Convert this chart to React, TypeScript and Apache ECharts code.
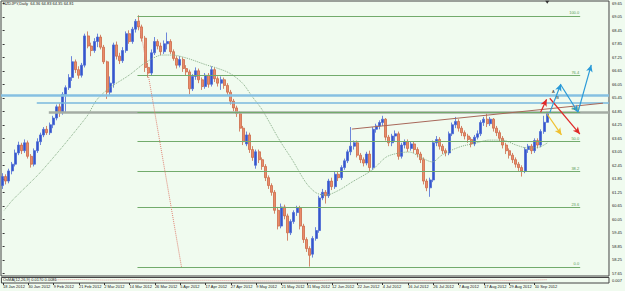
import React, { useEffect, useRef } from "react";
import * as echarts from "echarts";

const TITLE = "NZDJPY,Daily  64.36 64.83 64.35 64.81";
const INDICATOR_TITLE = "OsMA(12,26,9) 0.0170 0.0081";
const MONTHS = ["Jan", "Feb", "Mar", "Apr", "May", "Jun", "Jul", "Aug", "Sep", "Oct", "Nov", "Dec"];
const BAR_COUNT = 173;
const SLOT_COUNT = 192;
const LABEL_EVERY = 8;
const LAST_LABEL_INDEX = 168;

// [open, close, low, high]
const ohlc: number[][] = [
  [61.55, 61.95, 61.4, 62.1], [61.95, 61.75, 61.6, 62.05], [61.75, 62.2, 61.65, 62.3], [62.2, 62.5, 62.05, 62.6],
  [62.5, 63.0, 62.4, 63.15], [63.0, 63.35, 62.9, 63.5], [63.35, 63.1, 62.95, 63.45], [63.1, 63.45, 63.0, 63.6],
  [63.45, 62.85, 62.75, 63.55], [62.85, 62.5, 62.35, 62.95], [62.5, 63.1, 62.4, 63.2], [63.1, 63.5, 63.0, 63.65],
  [63.5, 63.8, 63.35, 63.9], [63.8, 64.05, 63.7, 64.15], [64.05, 63.9, 63.8, 64.2], [63.9, 64.25, 63.8, 64.35],
  [64.25, 64.55, 64.1, 64.65], [64.55, 65.05, 64.45, 65.15], [65.05, 64.8, 64.6, 65.2], [64.8, 65.6, 64.7, 65.7],
  [65.6, 65.9, 64.8, 66.0], [65.9, 66.35, 65.8, 66.5], [66.35, 67.05, 66.2, 67.3], [67.05, 66.7, 66.55, 67.15],
  [66.7, 66.45, 66.3, 66.85], [66.45, 66.9, 66.35, 67.0], [66.9, 68.2, 66.8, 68.3], [68.2, 67.75, 67.65, 68.4],
  [67.75, 67.55, 67.3, 67.9], [67.55, 67.95, 67.45, 68.1], [67.95, 68.15, 67.7, 68.3], [68.15, 67.7, 67.6, 68.25],
  [67.7, 67.05, 66.95, 67.8], [67.05, 65.7, 65.4, 67.1], [65.7, 66.1, 65.55, 66.4], [66.1, 67.8, 65.9, 67.9],
  [67.8, 67.3, 67.15, 67.95], [67.3, 67.1, 66.95, 67.45], [67.1, 67.55, 67.0, 67.7], [67.55, 68.3, 67.45, 68.4],
  [68.3, 67.95, 67.85, 68.45], [67.95, 68.5, 67.85, 68.6], [68.5, 68.85, 68.35, 68.95], [68.85, 68.6, 68.45, 69.12],
  [68.6, 68.1, 67.95, 68.7], [68.1, 66.8, 66.6, 68.2], [66.8, 66.55, 66.35, 67.0], [66.55, 67.45, 66.45, 67.6],
  [67.45, 67.95, 67.35, 68.15], [67.95, 67.75, 67.6, 68.05], [67.75, 67.5, 67.35, 67.9], [67.5, 67.85, 67.4, 68.0],
  [67.85, 67.95, 67.6, 68.35], [67.95, 67.5, 67.4, 68.05], [67.5, 67.2, 67.1, 67.6], [67.2, 66.9, 66.75, 67.3],
  [66.9, 67.15, 66.8, 67.3], [67.15, 66.75, 66.6, 67.25], [66.75, 66.6, 66.45, 66.9], [66.6, 65.85, 65.6, 66.7],
  [65.85, 66.4, 65.75, 66.5], [66.4, 66.65, 66.25, 66.8], [66.65, 66.25, 66.1, 66.75], [66.25, 65.95, 65.8, 66.35],
  [65.95, 66.45, 65.85, 66.55], [66.45, 66.05, 65.9, 66.55], [66.05, 66.7, 65.95, 66.85], [66.7, 66.3, 66.15, 66.8],
  [66.3, 66.1, 65.95, 66.4], [66.1, 66.25, 65.8, 66.4], [66.25, 66.0, 65.85, 66.35], [66.0, 65.7, 65.55, 66.1],
  [65.7, 65.3, 65.15, 65.8], [65.3, 65.0, 64.85, 65.4], [65.0, 64.75, 64.6, 65.1], [64.75, 64.1, 63.95, 64.85],
  [64.1, 63.5, 63.35, 64.2], [63.4, 63.8, 63.3, 63.95], [63.8, 63.15, 63.0, 63.9], [63.15, 62.8, 62.65, 63.3],
  [62.45, 63.05, 62.3, 63.15], [63.05, 62.7, 62.55, 63.15], [62.7, 62.4, 62.25, 62.8], [62.4, 61.9, 61.75, 62.5],
  [61.9, 61.55, 61.4, 62.0], [61.55, 61.25, 61.1, 61.65], [61.25, 60.45, 60.3, 61.35], [60.45, 59.75, 59.6, 60.6],
  [59.75, 60.6, 59.65, 60.75], [60.6, 60.2, 60.05, 60.7], [60.2, 59.45, 59.1, 60.3], [59.45, 59.95, 59.35, 60.05],
  [59.95, 60.35, 59.85, 60.45], [60.35, 60.55, 60.2, 60.65], [60.55, 59.75, 59.6, 60.65], [59.75, 59.15, 59.0, 59.85],
  [59.15, 58.75, 58.6, 59.25], [58.75, 58.45, 57.95, 58.85], [58.5, 59.2, 58.35, 59.3], [59.2, 59.55, 59.1, 59.7],
  [59.55, 61.0, 59.45, 61.1], [61.0, 61.25, 60.9, 61.4], [61.25, 61.1, 60.75, 61.35], [61.1, 61.75, 61.0, 61.85],
  [61.75, 61.5, 61.35, 61.9], [61.5, 62.05, 61.4, 62.15], [62.05, 61.9, 61.75, 62.2], [61.9, 62.35, 61.8, 62.45],
  [62.35, 62.65, 62.25, 62.75], [62.65, 63.05, 62.55, 63.15], [63.05, 63.3, 62.9, 64.15], [63.3, 63.45, 63.15, 63.55],
  [63.45, 62.9, 62.8, 63.55], [62.9, 62.7, 62.55, 63.0], [62.7, 62.55, 62.4, 62.8], [62.55, 62.95, 62.45, 63.05],
  [62.95, 62.35, 62.2, 63.1], [62.35, 64.05, 62.25, 64.15], [64.05, 64.2, 63.9, 64.3], [64.2, 64.35, 64.05, 64.45],
  [64.35, 64.5, 64.2, 64.65], [64.5, 63.7, 63.55, 64.55], [63.7, 63.45, 63.3, 63.8], [63.45, 63.75, 63.3, 63.85],
  [63.75, 63.85, 63.5, 64.0], [63.85, 62.85, 62.7, 63.95], [62.85, 63.35, 62.75, 63.45], [63.35, 63.5, 63.2, 63.6],
  [63.5, 63.2, 63.05, 63.6], [63.2, 63.4, 63.1, 63.5], [63.4, 63.15, 63.0, 63.5], [63.15, 62.95, 62.8, 63.25],
  [62.95, 62.7, 62.55, 63.05], [62.7, 61.75, 61.6, 62.8], [61.75, 61.45, 61.3, 61.85], [61.45, 61.8, 61.05, 61.9],
  [61.8, 63.45, 61.7, 63.55], [63.45, 63.6, 63.3, 63.75], [63.6, 63.3, 63.15, 63.7], [63.3, 63.1, 62.95, 63.4],
  [63.1, 63.0, 62.85, 63.2], [63.0, 63.85, 62.9, 63.95], [63.85, 64.25, 63.75, 64.35], [64.25, 64.4, 64.1, 64.6],
  [64.4, 64.1, 63.95, 64.5], [64.1, 63.9, 63.75, 64.2], [63.9, 63.75, 63.6, 64.0], [63.75, 63.6, 63.45, 63.85],
  [63.6, 63.4, 63.25, 63.7], [63.4, 63.7, 63.3, 63.8], [63.7, 63.85, 63.6, 64.0], [63.85, 64.35, 63.75, 64.45],
  [64.35, 64.5, 64.2, 64.6], [64.5, 64.3, 64.15, 64.75], [64.3, 64.5, 64.2, 64.6], [64.5, 64.1, 63.95, 64.55],
  [64.1, 63.9, 63.75, 64.2], [63.9, 63.65, 63.5, 64.0], [63.65, 63.35, 63.2, 63.75], [63.35, 63.1, 62.95, 63.45],
  [63.1, 62.9, 62.75, 63.2], [62.9, 62.7, 62.55, 63.0], [62.7, 62.5, 62.35, 62.8], [62.5, 62.35, 62.2, 62.6],
  [62.35, 62.2, 61.95, 62.45], [62.2, 63.15, 62.1, 63.25], [63.15, 63.3, 63.0, 63.4], [63.3, 63.1, 62.95, 63.4],
  [63.1, 63.55, 63.0, 63.65], [63.55, 63.35, 63.2, 63.65], [63.35, 63.95, 63.25, 64.05], [63.95, 64.36, 63.85, 64.65],
  [64.36, 64.81, 64.35, 64.83],
];

// slow moving average, read at [bar index, price]
const maPoints: number[][] = [
  [0.5, 60.45], [3.2, 60.91], [12.6, 62.24], [26.5, 64.6], [29.7, 65.35], [33.8, 65.89], [40, 66.46],
  [45.4, 67.04], [50.5, 67.35], [53.6, 67.35], [58, 67.22], [64.4, 66.91], [67.5, 66.78], [71.6, 66.55],
  [75.7, 66.11], [78.9, 65.49], [82, 64.91], [87.4, 63.58], [91.5, 62.69], [95.9, 61.66], [99.1, 61.22],
  [102.2, 61.13], [106.3, 61.35], [110.4, 61.71], [116.7, 62.24], [121.2, 62.82], [125.3, 63.0],
  [128.4, 63.04], [132.5, 62.77], [135.7, 62.6], [138.8, 62.91], [144.2, 63.26], [149.5, 63.44],
  [153.6, 63.57], [157.7, 63.57], [162.2, 63.35], [165.7, 63.22], [169.5, 63.26], [172, 63.44],
];

// OsMA indicator, read at [bar index, value]
const osmaPoints: number[][] = [
  [16, 0.0072], [24, 0.0074], [32, 0.0071], [40, 0.0073], [48, 0.007], [56, 0.0069], [64, 0.007],
  [72, 0.0068], [80, 0.0067], [88, 0.0066], [96, 0.0067], [104, 0.0071], [112, 0.0072], [120, 0.0071],
  [128, 0.007], [136, 0.0069], [144, 0.0071], [152, 0.0071], [160, 0.0069], [168, 0.0071], [172, 0.0073],
];

const priceTicks = [57.65, 58.25, 58.85, 59.45, 60.05, 60.65, 61.25, 61.85, 62.45, 63.05, 63.65, 64.25, 64.85, 65.45, 66.05, 66.65, 67.25, 67.85, 68.45, 69.05, 69.65];
const currentPrice = 64.81;
const osmaTicks = [0.007];

const fibLabels = ["0.0", "23.6", "38.2", "50.0", "61.8", "76.4", "100.0"];
const fibRatios = [0, 0.236, 0.382, 0.5, 0.618, 0.764, 1];
const fibLow = 57.93;
const fibHigh = 69.09;
const fibStartBar = 42.6;
const fibEndBar = 182.4;
const fibDiagonal = [[42.9, 69.0], [56.5, 57.93]];

const hLineBlue1 = { from: -0.5, to: 191.5, price: 65.575 };
const hLineBlue2 = { from: 10.8, to: 191.5, price: 65.23 };
const hLineGray = { from: 14.6, to: 191.5, price: 64.82 };
const trendLine = [[110.3, 64.06], [189.6, 65.21]];

const redArrows = [
  [[169.9, 64.81], [171.8, 65.38]],
  [[172.8, 65.43], [182.3, 63.84]],
];
const yellowArrows = [[[172.0, 64.72], [176.5, 63.8]]];
const blueArrows = [
  [[172.8, 64.79], [176.3, 66.06]],
  [[176.3, 66.02], [181.7, 64.81]],
  [[181.7, 64.81], [185.9, 66.91]],
];
const waveLabels = [
  { text: "A", bar: 173.9, price: 65.75 },
  { text: "B", bar: 175.3, price: 65.46 },
];
const shiftMarker = [172, 69.7];

const FONT = "Liberation Sans";
const BG = "#f0fbef";

function buildCategories(): string[] {
  const out: string[] = [];
  const d = new Date(Date.UTC(2012, 0, 18));
  while (out.length < BAR_COUNT) {
    const wd = d.getUTCDay();
    if (wd !== 0 && wd !== 6) {
      out.push(`${d.getUTCDate()} ${MONTHS[d.getUTCMonth()]} ${d.getUTCFullYear()}`);
    }
    d.setUTCDate(d.getUTCDate() + 1);
  }
  while (out.length < SLOT_COUNT) out.push("");
  return out;
}

function arrowItem(seg: number[][], color: string) {
  return [
    { coord: seg[0], symbol: "none", lineStyle: { color, width: 1.2, type: "solid" } },
    { coord: seg[1], symbol: "arrow", symbolSize: [5, 7] },
  ];
}

export default function App() {
  const ref = useRef<HTMLDivElement>(null);

  useEffect(() => {
    if (!ref.current) return;
    const chart = echarts.init(ref.current, undefined, { renderer: "svg" });
    const categories = buildCategories();
    const labelShown = (idx: number) => idx % LABEL_EVERY === 0 && idx <= LAST_LABEL_INDEX;

    const fibItems = fibRatios.map((r, k) => {
      const price = fibLow + (fibHigh - fibLow) * r;
      return [
        {
          coord: [fibStartBar, price],
          symbol: "none",
          lineStyle: { color: "#72ab6c", width: 1, type: "solid" },
          label: {
            show: true,
            position: "insideEndTop",
            formatter: fibLabels[k],
            color: "#5c9a55",
            fontSize: 4,
            fontFamily: FONT,
            distance: 1,
          },
        },
        { coord: [fibEndBar, price], symbol: "none" },
      ];
    });

    const hItem = (h: { from: number; to: number; price: number }, color: string, width: number) => [
      { coord: [h.from, h.price], symbol: "none", lineStyle: { color, width, type: "solid" } },
      { coord: [h.to, h.price], symbol: "none" },
    ];

    const drawings = [
      hItem(hLineGray, "#a4aca4", 2.5),
      ...fibItems,
      hItem(hLineBlue1, "#86c0e2", 2.5),
      hItem(hLineBlue2, "#7ab8de", 1.5),
      [
        { coord: fibDiagonal[0], symbol: "none", lineStyle: { color: "#e08474", width: 1, type: "dotted" } },
        { coord: fibDiagonal[1], symbol: "none" },
      ],
      [
        { coord: trendLine[0], symbol: "none", lineStyle: { color: "#a8685a", width: 1, type: "solid" } },
        { coord: trendLine[1], symbol: "none" },
      ],
      ...yellowArrows.map((s) => arrowItem(s, "#f0c030")),
      ...redArrows.map((s) => arrowItem(s, "#e02828")),
      ...blueArrows.map((s) => arrowItem(s, "#2a9ad8")),
    ];

    chart.setOption({
      animation: false,
      backgroundColor: BG,
      title: [
        { text: TITLE, left: 3, top: 1.5, padding: 0, textStyle: { fontSize: 4, fontWeight: "normal", color: "#222", fontFamily: FONT } },
        { text: INDICATOR_TITLE, left: 3, top: 277.5, padding: 0, textStyle: { fontSize: 4, fontWeight: "normal", color: "#222", fontFamily: FONT } },
      ],
      grid: [
        { left: 1, top: 1, width: 610, height: 275, show: true, backgroundColor: BG, borderColor: "#444", borderWidth: 1 },
        { left: 1, top: 277.5, width: 610, height: 5.5, show: true, backgroundColor: BG, borderColor: "#444", borderWidth: 1 },
      ],
      xAxis: [
        { type: "category", gridIndex: 0, data: categories, boundaryGap: true, show: false },
        { type: "value", gridIndex: 0, min: -0.5, max: SLOT_COUNT - 0.5, show: false },
        {
          type: "category",
          gridIndex: 1,
          data: categories,
          boundaryGap: true,
          axisLine: { show: false },
          axisTick: { show: true, alignWithLabel: true, interval: labelShown, length: 2, lineStyle: { color: "#333" } },
          axisLabel: {
            interval: labelShown,
            align: "left",
            fontSize: 4,
            color: "#222",
            fontFamily: FONT,
            margin: 1.5,
          },
          splitLine: { show: false },
        },
      ],
      yAxis: [
        {
          type: "value",
          gridIndex: 0,
          position: "right",
          min: 57.53,
          max: 69.752,
          splitLine: { show: false },
          axisLine: { show: false },
          axisTick: { show: true, length: 2, customValues: priceTicks, lineStyle: { color: "#333" } },
          axisLabel: {
            customValues: priceTicks,
            formatter: (v: number) => v.toFixed(2),
            fontSize: 4,
            color: "#222",
            fontFamily: FONT,
            margin: 3,
          },
        },
        {
          type: "value",
          gridIndex: 1,
          position: "right",
          min: 0.0055,
          max: 0.0085,
          splitLine: { show: false },
          axisLine: { show: false },
          axisTick: { show: false },
          axisLabel: {
            customValues: osmaTicks,
            formatter: (v: number) => v.toFixed(3),
            fontSize: 4,
            color: "#222",
            fontFamily: FONT,
            margin: 3,
          },
        },
      ],
      series: [
        {
          type: "candlestick",
          xAxisIndex: 0,
          yAxisIndex: 0,
          data: ohlc,
          barWidth: 2.6,
          itemStyle: {
            color: "#3556cc",
            borderColor: "#4a68d4",
            color0: "#ea8b6b",
            borderColor0: "#cc6a48",
            borderWidth: 0.8,
          },
          markLine: {
            silent: true,
            symbol: ["none", "none"],
            data: [
              {
                yAxis: currentPrice,
                lineStyle: { opacity: 0 },
                label: {
                  show: true,
                  position: "end",
                  formatter: currentPrice.toFixed(2),
                  backgroundColor: "#111",
                  color: "#fff",
                  fontSize: 4,
                  fontFamily: FONT,
                  padding: [1, 2],
                  distance: 1,
                },
              },
            ],
          },
        },
        {
          type: "line",
          xAxisIndex: 1,
          yAxisIndex: 0,
          data: maPoints,
          symbol: "none",
          smooth: 0.3,
          lineStyle: { color: "#86ac86", width: 1, type: "dotted" },
          markLine: {
            silent: true,
            symbol: ["none", "none"],
            label: { show: false },
            data: drawings,
          },
          markPoint: {
            silent: true,
            data: [
              ...waveLabels.map((w) => ({
                coord: [w.bar, w.price],
                symbol: "circle",
                symbolSize: 1,
                itemStyle: { color: "transparent" },
                label: { show: true, formatter: w.text, position: "inside", color: "#333", fontSize: 4, fontFamily: FONT },
              })),
              {
                coord: shiftMarker,
                symbol: "triangle",
                symbolRotate: 180,
                symbolSize: [4, 3],
                itemStyle: { color: "#333" },
                label: { show: false },
              },
            ],
          },
        },
        {
          type: "line",
          xAxisIndex: 2,
          yAxisIndex: 1,
          data: osmaPoints,
          symbol: "none",
          lineStyle: { color: "#e09494", width: 1, type: "dotted" },
        },
      ],
    });

    return () => chart.dispose();
  }, []);

  return (
    <div
      ref={ref}
      style={{ position: "fixed", left: 0, top: 0, width: 625, height: 291, background: BG }}
    />
  );
}
